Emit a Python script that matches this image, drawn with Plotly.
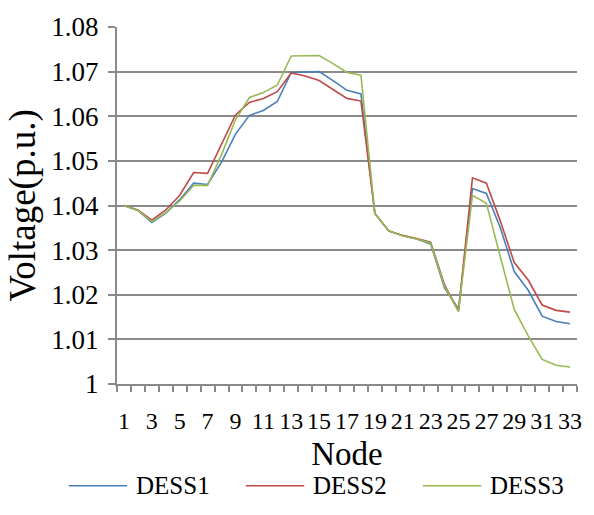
import plotly.graph_objects as go

nodes = list(range(1, 34))

dess1 = [1.0400, 1.0389, 1.0362, 1.0383, 1.0413, 1.0450, 1.0447, 1.0497, 1.0560, 1.0602,
         1.0613, 1.0633, 1.0698, 1.0699, 1.0700, 1.0680, 1.0658, 1.0650, 1.0382, 1.0343,
         1.0332, 1.0325, 1.0314, 1.0215, 1.0168, 1.0438, 1.0427, 1.0350, 1.0252, 1.0210,
         1.0152, 1.0140, 1.0135]
dess2 = [1.0400, 1.0390, 1.0367, 1.0390, 1.0423, 1.0474, 1.0472, 1.0536, 1.0603, 1.0631,
         1.0640, 1.0655, 1.0697, 1.0690, 1.0680, 1.0660, 1.0640, 1.0634, 1.0382, 1.0343,
         1.0333, 1.0326, 1.0318, 1.0222, 1.0163, 1.0462, 1.0450, 1.0365, 1.0272, 1.0233,
         1.0177, 1.0165, 1.0161]
dess3 = [1.0400, 1.0389, 1.0364, 1.0384, 1.0410, 1.0445, 1.0445, 1.0514, 1.0592, 1.0642,
         1.0653, 1.0670, 1.0735, 1.0736, 1.0736, 1.0718, 1.0698, 1.0692, 1.0382, 1.0343,
         1.0332, 1.0325, 1.0316, 1.0218, 1.0163, 1.0423, 1.0405, 1.0285, 1.0167, 1.0108,
         1.0055, 1.0042, 1.0038]

series_names = ["DESS1", "DESS2", "DESS3"]
series_colors = ["#4A7EBB", "#BE4B48", "#98B954"]

x_tick_vals = list(range(1, 34, 2))
y_tick_vals = [1.00, 1.01, 1.02, 1.03, 1.04, 1.05, 1.06, 1.07, 1.08]
y_tick_text = ["1", "1.01", "1.02", "1.03", "1.04", "1.05", "1.06", "1.07", "1.08"]

FONT = "Times New Roman"
GRID = "#8A8A8A"

fig = go.Figure()
for name, vals, col in zip(series_names, [dess1, dess2, dess3], series_colors):
    fig.add_trace(go.Scatter(x=nodes, y=vals, mode="lines", name=name,
                             line=dict(color=col, width=1.6), showlegend=False))

fig.update_layout(
    width=594, height=515,
    margin=dict(l=117, r=12, t=20, b=131),
    paper_bgcolor="white", plot_bgcolor="white",
    font=dict(family=FONT, color="black"),
)
fig.update_xaxes(
    range=[0.5, 33.5], tickmode="array", tickvals=x_tick_vals, tickangle=0,
    ticks="", tickfont=dict(size=24, family=FONT), ticklabelstandoff=14,
    showgrid=False, zeroline=False,
    showline=True, linecolor=GRID, linewidth=2,
    minor=dict(ticks="outside", tick0=0.5, dtick=1, ticklen=6,
               tickcolor=GRID, tickwidth=2, showgrid=False),
    title=dict(text="Node", font=dict(size=33, family=FONT), standoff=9),
)
fig.update_yaxes(
    range=[1.0, 1.08], tickmode="array", tickvals=y_tick_vals, ticktext=y_tick_text,
    ticks="outside", ticklen=7, tickcolor=GRID, tickwidth=2,
    tickfont=dict(size=27, family=FONT), ticklabelstandoff=4,
    showgrid=True, gridcolor=GRID, gridwidth=2, zeroline=False,
    showline=True, linecolor=GRID, linewidth=2,
    title=dict(text="Voltage(p.u.)", font=dict(size=37, family=FONT), standoff=4),
)

# legend row drawn below the plot area
leg_y = -0.285
leg_x = [-0.105, 0.28, 0.665]
for xs, name, col in zip(leg_x, series_names, series_colors):
    fig.add_shape(type="line", xref="paper", yref="paper",
                  x0=xs, x1=xs + 0.127, y0=leg_y, y1=leg_y,
                  line=dict(color=col, width=1.6))
    fig.add_annotation(xref="paper", yref="paper", x=xs + 0.142, y=leg_y,
                       text=name, showarrow=False, xanchor="left", yanchor="middle",
                       font=dict(size=25, family=FONT, color="black"))

fig.write_html("out.html")
